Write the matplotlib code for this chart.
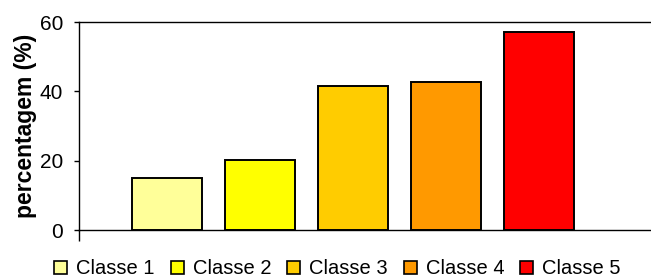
import matplotlib.pyplot as plt
from matplotlib.patches import Patch

# data
categories = ['Classe 1', 'Classe 2', 'Classe 3', 'Classe 4', 'Classe 5']
values = [15.0, 20.2, 41.5, 42.7, 57.1]
colors = ['#FFFF99', '#FFFF00', '#FFCC00', '#FF9900', '#FF0000']
y_ticks = [0, 20, 40, 60]

plt.rcParams['font.family'] = ['Liberation Sans', 'DejaVu Sans']

fig = plt.figure(figsize=(6.51, 2.79), dpi=100)
ax = fig.add_axes([79 / 651, 1 - 230 / 279, 1 - 79 / 651, 208 / 279])

x = list(range(len(categories)))
ax.bar(x, values, width=0.75, color=colors, edgecolor='black', linewidth=1.4)

x_left = -0.946
ax.set_xlim(x_left, 5.2)
ax.set_ylim(0, 60)
ax.set_yticks(y_ticks)
ax.tick_params(axis='y', labelsize=15, length=3.6, width=1, pad=8)
ax.set_xticks([x_left])
ax.set_xticklabels([''])
ax.tick_params(axis='x', length=8, width=1, direction='out')

for s in ['left', 'bottom', 'top']:
    ax.spines[s].set_linewidth(1)
ax.spines['right'].set_visible(False)

ax.set_ylabel('percentagem (%)', fontsize=16.5, fontweight='bold', labelpad=2)

handles = [Patch(facecolor=c, edgecolor='black', linewidth=1.2) for c in colors]
fig.legend(handles, categories, loc='center', bbox_to_anchor=(0.5 + 12 / 651, 1 - 269 / 279),
           ncol=5, frameon=False, fontsize=14.5, handlelength=0.65, handleheight=0.65,
           handletextpad=0.45, columnspacing=0.78, borderpad=0)

fig.savefig('out.png', dpi=100)
